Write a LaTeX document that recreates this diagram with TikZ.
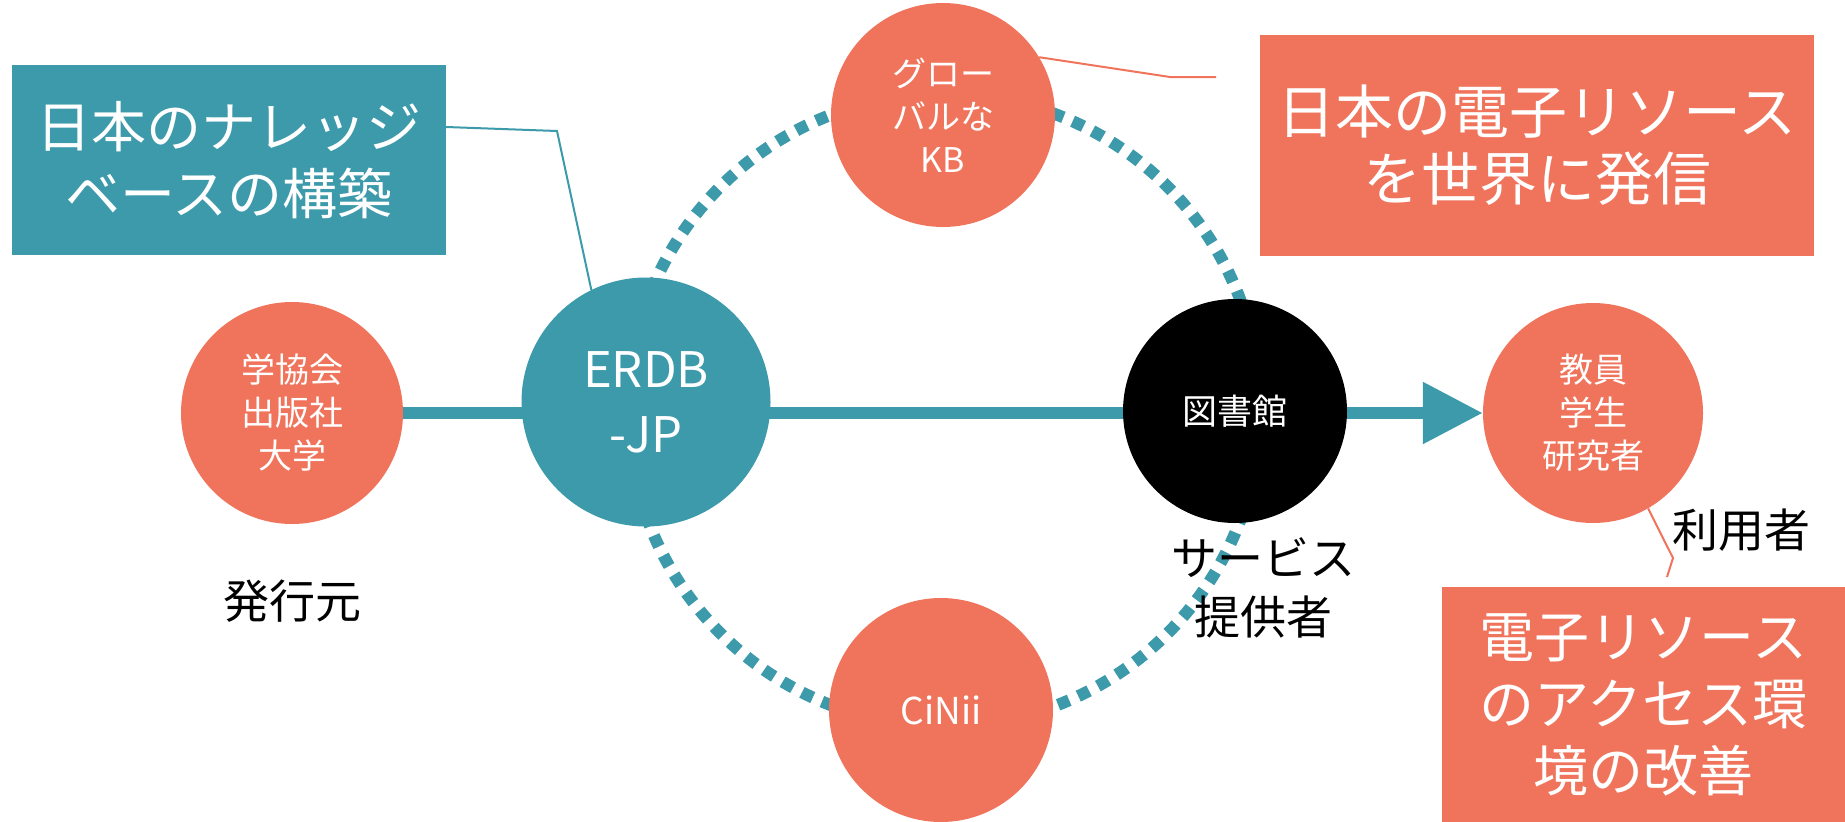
\documentclass[tikz,border=0pt]{standalone}
\usepackage{fontspec}
\setmainfont{Noto Sans CJK JP}
\usetikzlibrary{arrows.meta,backgrounds}
\definecolor{erdbteal}{RGB}{60,154,170}
\definecolor{kborange}{RGB}{240,116,92}
\newcommand{\fs}[2]{\fontsize{#1}{#2}\selectfont}

\begin{document}
\begin{tikzpicture}[x=1pt,y=-1pt,
    ball/.style={circle,fill=kborange,text=white,inner sep=0pt,minimum size=222pt,align=center,font=\fs{34}{43}},
    banner/.style={fill=kborange,text=white,inner sep=0pt,align=center},
    tag/.style={align=center,font=\fs{46}{59}},
    callout/.style={line width=2pt}]
  \useasboundingbox (0,0) rectangle (1845,822);
  %
  \node[ball] (pub) at (292,413) {学協会\\出版社\\大学};
  \node[ball,fill=erdbteal,minimum size=249pt,font=\fs{49}{65}] (erdb) at (646,402) {ERDB\\-JP};
  \node[ball,minimum size=224pt] (kb) at (943,115) {グロー\\バルな\\KB};
  \node[ball,fill=black,minimum size=224pt,font=\fs{35}{43}] (lib) at (1235,411) {図書館};
  \node[ball,minimum size=224pt,font=\fs{37}{43}] (cinii) at (941,710) {CiNii};
  \node[ball,minimum size=220pt] (users) at (1593,413) {教員\\学生\\研究者};
  %
  \node[banner,fill=erdbteal,minimum width=434pt,minimum height=190pt,font=\fs{55}{67}] (kbbox) at (229,160) {日本のナレッジ\\ベースの構築};
  \node[banner,minimum width=554pt,minimum height=221pt,font=\fs{58}{67}] (sendbox) at (1537,145) {日本の電子リソース\\を世界に発信};
  \node[banner,minimum width=403pt,minimum height=235pt,font=\fs{55}{67}] (accessbox) at (1643.5,704.5) {電子リソース\\のアクセス環\\境の改善};
  %
  \node[tag] (issuer) at (292,601) {発行元};
  \node[tag] (provider) at (1263,588) {サービス\\提供者};
  \node[tag] (reader) at (1741,530) {利用者};
  %
  \begin{scope}[on background layer]
    \coordinate (ring) at (944,410);
    \draw[erdbteal,line width=12pt,dash pattern=on 12pt off 10pt] (ring) circle (316pt);
    \draw[erdbteal,line width=12pt,-{Triangle[length=60pt,width=59pt]}] (pub.east) -- (users.west);
  \end{scope}
  %
  \coordinate (kbbend) at (557,131);
  \coordinate (sendbend) at (1170,77);
  \coordinate (sendend) at (1216,77);
  \coordinate (userbend) at (1673,558);
  \coordinate (userend) at (1667,577);
  \draw[erdbteal,callout] ([yshift=33pt]kbbox.east) -- (kbbend) -- (erdb.116);
  \draw[kborange,callout] (kb.31) -- (sendbend) -- (sendend);
  \draw[kborange,callout] (users.-60) -- (userbend) -- (userend);
\end{tikzpicture}
\end{document}
